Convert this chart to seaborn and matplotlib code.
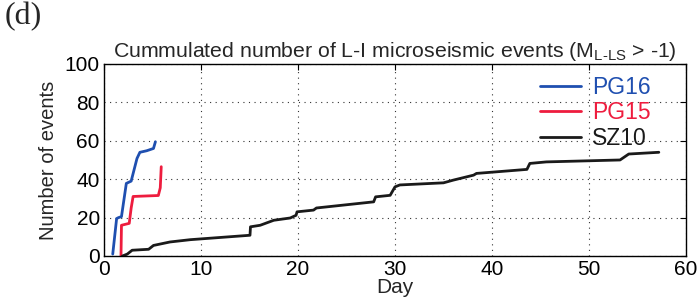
import matplotlib
matplotlib.use('Agg')
import matplotlib.pyplot as plt
import seaborn as sns
import pandas as pd

# cumulated event curves (day, count)
pg16_day = [0.9, 1.3, 1.5, 1.8, 2.3, 2.8, 3.4, 3.7, 4.4, 5.1, 5.3]
pg16_cnt = [1, 19.5, 20, 20.5, 37.8, 39, 50.8, 54, 54.8, 56, 59.5]

pg15_day = [1.75, 1.8, 2.6, 2.8, 3.0, 5.6, 5.8, 5.9]
pg15_cnt = [0, 16, 17, 25, 31, 31.5, 35.5, 46.5]

sz10_day = [1.9, 2.4, 2.9, 4.6, 5.1, 6.8, 8.9, 15.05, 15.1, 16.1, 17.5, 19.2, 19.8,
            19.9, 21.6, 21.9, 27.8, 28.0, 29.5, 30.0, 30.5, 35.0, 36.0, 38.1, 38.4,
            43.6, 43.9, 45.6, 53.2, 54.1, 57.2]
sz10_cnt = [0, 1, 3, 3.5, 5.5, 7.3, 8.5, 10.8, 15.2, 16, 18.6, 19.8, 21.2,
            23, 23.9, 25, 28.2, 30.8, 31.6, 36, 37, 38.1, 39.5, 42.1, 43,
            45.1, 48.2, 49, 50, 53.1, 54]

stations = ['PG16', 'PG15', 'SZ10']
colors = ['#1f4fb0', '#ee1c3e', '#1a1a1a']

df = pd.concat([
    pd.DataFrame({'day': pg16_day, 'events': pg16_cnt, 'station': 'PG16'}),
    pd.DataFrame({'day': pg15_day, 'events': pg15_cnt, 'station': 'PG15'}),
    pd.DataFrame({'day': sz10_day, 'events': sz10_cnt, 'station': 'SZ10'}),
], ignore_index=True)

sns.set_style('white')
plt.rcParams['font.family'] = ['Liberation Sans', 'DejaVu Sans']
plt.rcParams['mathtext.fontset'] = 'custom'
plt.rcParams['mathtext.rm'] = 'Liberation Sans'
plt.rcParams['mathtext.it'] = 'Liberation Sans'

fig = plt.figure(figsize=(6.99, 3.06), dpi=100)
ax = fig.add_axes([0.1488, 0.1634, 0.8326, 0.6276])

sns.lineplot(data=df, x='day', y='events', hue='station', hue_order=stations,
             palette=colors, sort=False, estimator=None, linewidth=2, ax=ax)

ax.set_xlim(0, 60)
ax.set_ylim(0, 100)
ax.set_xticks(range(0, 61, 10))
ax.set_yticks(range(0, 101, 20))
ax.grid(True, color='#333333', linestyle=(0, (1, 4)), linewidth=0.8)
for s in ax.spines.values():
    s.set_color('black')
    s.set_linewidth(1)
ax.tick_params(direction='in', top=True, right=True, length=4, width=0.8,
               labelsize=15, pad=3, colors='black')
ax.set_xlabel('Day', fontsize=15, labelpad=-1)
ax.set_ylabel('Number of events', fontsize=14.5, labelpad=5)
ax.set_title(r'Cummulated number of L-I microseismic events (M$_{\mathregular{L\text{-}LS}}$ > -1)',
             fontsize=15.3, pad=5)

leg = ax.legend(loc='upper right', bbox_to_anchor=(0.955, 0.985), frameon=False, fontsize=16.5,
                handlelength=1.75, handletextpad=0.5, labelspacing=0.1, borderaxespad=0)
for txt, c in zip(leg.get_texts(), colors):
    txt.set_color(c)

fig.text(0.006, 0.995, '(d)', fontsize=23, family='Liberation Serif', va='top', ha='left')

fig.savefig('out.png', dpi=100)
